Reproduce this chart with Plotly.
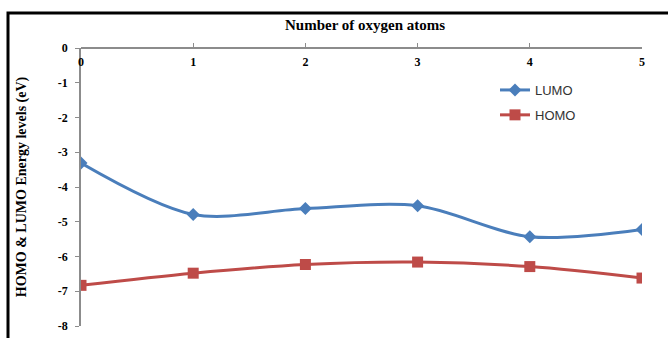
import plotly.graph_objects as go

oxygen_atoms = [0, 1, 2, 3, 4, 5]
lumo = [-3.31, -4.79, -4.62, -4.54, -5.43, -5.22]
homo = [-6.83, -6.48, -6.23, -6.16, -6.29, -6.62]
y_ticks = [0, -1, -2, -3, -4, -5, -6, -7, -8]

W, H = 668, 338
L, R, T, B = 81, 26, 48, 12
pw, ph = W - L - R, H - T - B

fig = go.Figure()
fig.add_trace(go.Scatter(
    x=oxygen_atoms, y=lumo, name="LUMO", mode="lines+markers", legendgroup="g1",
    line=dict(color="#4A7EBB", width=3, shape="spline", smoothing=0.9),
    marker=dict(symbol="diamond", size=10, color="#4A7EBB"),
))
fig.add_trace(go.Scatter(
    x=oxygen_atoms, y=homo, name="HOMO", mode="lines+markers", legendgroup="g2",
    line=dict(color="#BE4B48", width=3, shape="spline", smoothing=0.9),
    marker=dict(symbol="square", size=11, color="#BE4B48"),
))

tick_font = dict(family="Liberation Serif", size=12, color="black", weight="bold")

fig.update_layout(
    width=W, height=H,
    margin=dict(l=L, r=R, t=T, b=B, autoexpand=False),
    paper_bgcolor="white", plot_bgcolor="white",
    showlegend=True,
    legend=dict(
        x=(495 - L) / pw, y=(326 - 75) / ph, xanchor="left", yanchor="top",
        font=dict(family="Liberation Sans", size=13, color="#333"),
        bgcolor="rgba(0,0,0,0)", traceorder="grouped", tracegroupgap=5, itemwidth=30,
    ),
    xaxis=dict(
        range=[0, 5], tickvals=oxygen_atoms, ticktext=[str(v) for v in oxygen_atoms],
        side="bottom", anchor="free", position=1.0, automargin=False,
        showline=True, linecolor="#8C8C8C", linewidth=1.5,
        ticks="inside", ticklen=4, tickcolor="#8C8C8C", ticklabelstandoff=3,
        showgrid=False, zeroline=False, tickfont=tick_font,
    ),
    yaxis=dict(
        range=[-8, 0], tickvals=y_ticks, ticktext=[str(v) for v in y_ticks],
        automargin=False,
        showline=True, linecolor="#8C8C8C", linewidth=1.5,
        ticks="outside", ticklen=4, tickcolor="#8C8C8C", ticklabelstandoff=5,
        showgrid=False, zeroline=False, tickfont=tick_font,
        title=dict(text="<b>HOMO & LUMO Energy levels (eV)</b>",
                   font=dict(family="Liberation Serif", size=14, color="black"),
                   standoff=28),
    ),
    annotations=[dict(
        text="<b>Number of oxygen atoms</b>", xref="paper", yref="paper",
        x=(365 - L) / pw, y=(326 - 25) / ph, xanchor="center", yanchor="middle",
        showarrow=False, font=dict(family="Liberation Serif", size=15, color="black"),
    )],
    shapes=[dict(
        type="rect", xref="paper", yref="paper",
        x0=(8 - L) / pw, x1=1.2, y0=-0.2, y1=(326 - 13) / ph,
        line=dict(color="black", width=3), fillcolor="rgba(0,0,0,0)", layer="below",
    )],
)

fig.write_html("out.html")
